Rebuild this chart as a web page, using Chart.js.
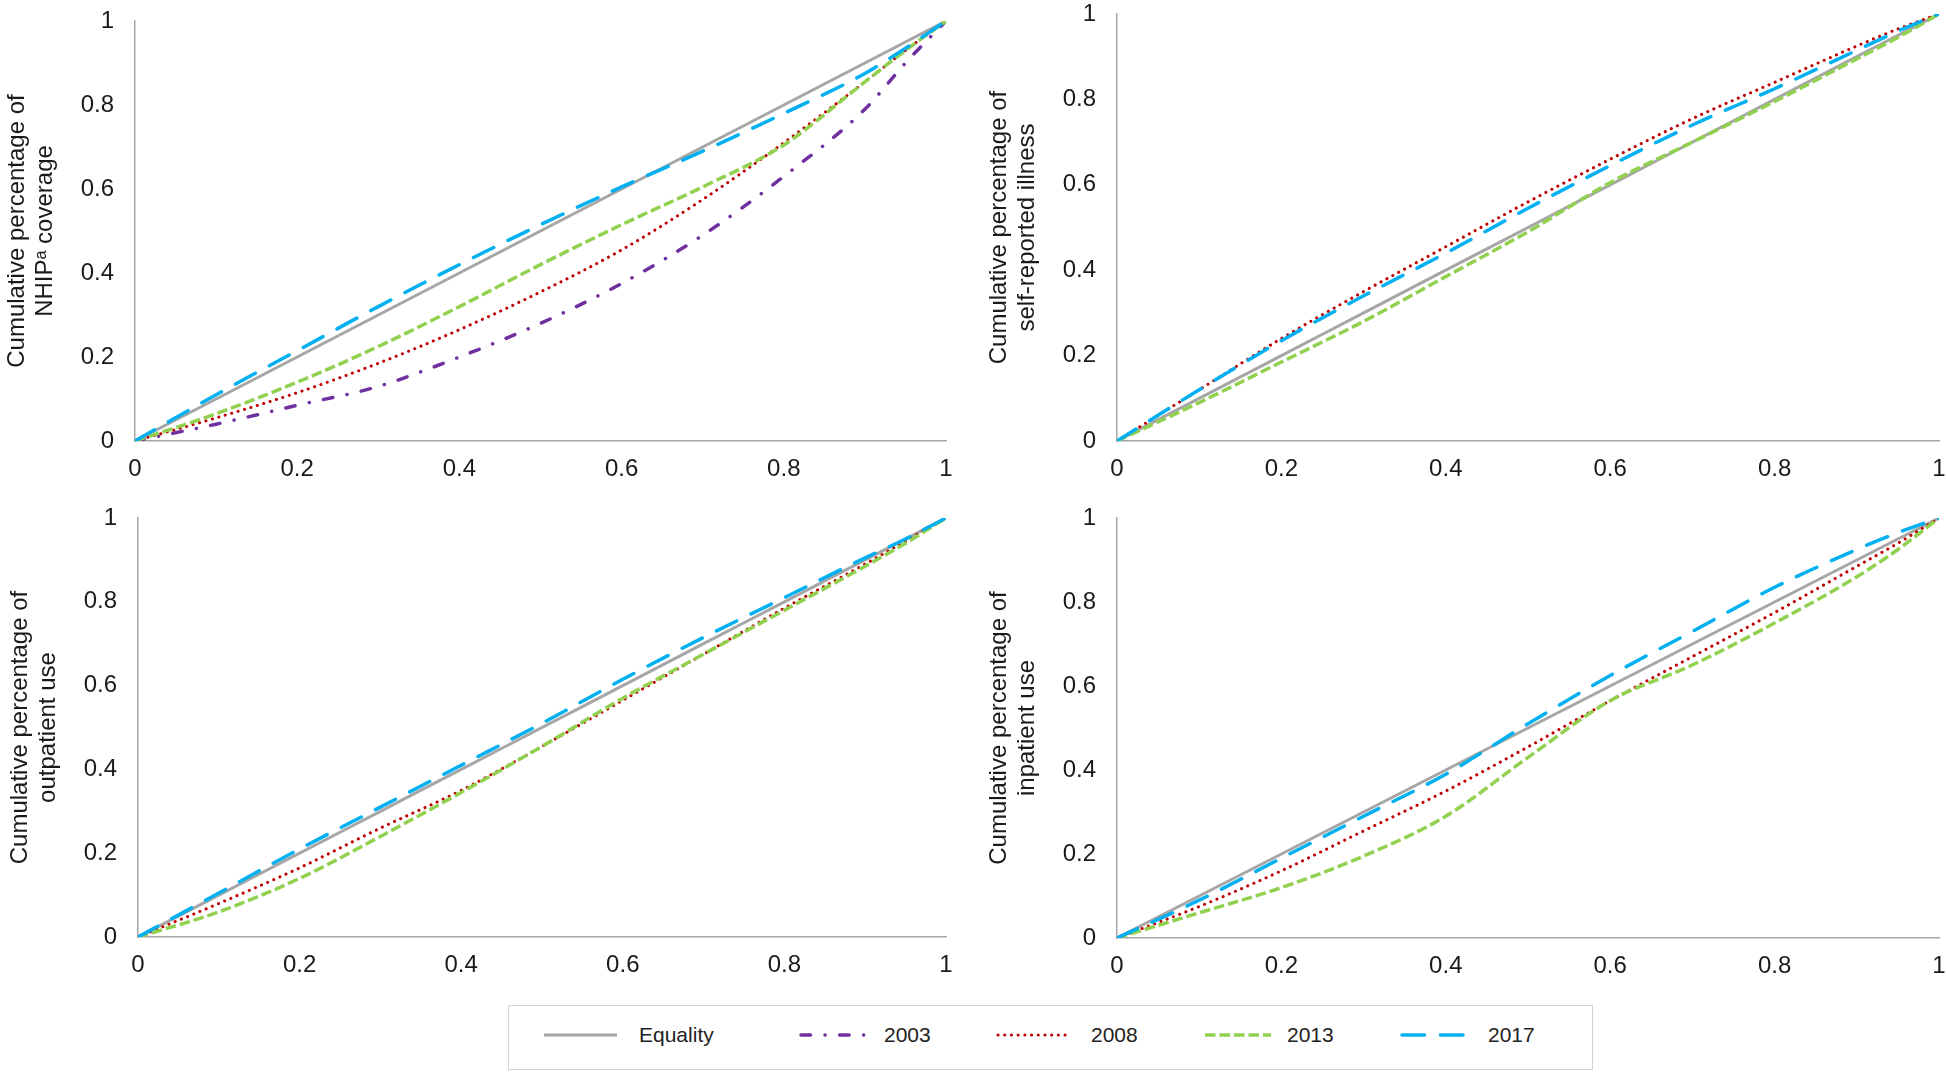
<!DOCTYPE html>
<html>
<head>
<meta charset="utf-8">
<script src="https://cdn.jsdelivr.net/npm/chart.js@4.4.1/dist/chart.umd.min.js"></script>
<style>
    html, body { margin: 0; padding: 0; background: #fff; }
    body { width: 1946px; height: 1075px; position: relative; overflow: hidden; font-family: "Liberation Sans", Arial, sans-serif; }
    .panel { position: absolute; }
    #legend { position: absolute; left: 508px; top: 1005px; width: 1083px; height: 63px; border: 1.5px solid #d4d4d4; }
    #legend .sample { position: absolute; top: 24px; }
    #legend .label { position: absolute; top: 17px; font-size: 21px; color: #222; line-height: 24px; }
</style>
</head>
<body>
<div class="panel" style="left:0px;top:0px;width:970px;height:500px"><canvas id="nhip"></canvas></div>
<div class="panel" style="left:982px;top:0px;width:964px;height:500px"><canvas id="illness"></canvas></div>
<div class="panel" style="left:3px;top:480px;width:967px;height:510px"><canvas id="outpatient"></canvas></div>
<div class="panel" style="left:982px;top:480px;width:964px;height:510px"><canvas id="inpatient"></canvas></div>
<div id="legend"></div>

<script>
    'use strict';

    // cumulative share of population (x of every curve)
    var lorenzX = [0, 0.1, 0.2, 0.3, 0.4, 0.5, 0.6, 0.7, 0.8, 0.9, 0.95, 1];
    var equality = [0, 0.1, 0.2, 0.3, 0.4, 0.5, 0.6, 0.7, 0.8, 0.9, 0.95, 1];

    // NHIP coverage
    var nhip2003 = [0, 0.04, 0.085, 0.13, 0.2, 0.28, 0.375, 0.49, 0.63, 0.79, 0.9, 1];
    var nhip2008 = [0, 0.055, 0.115, 0.185, 0.265, 0.355, 0.455, 0.575, 0.71, 0.855, 0.93, 1];
    var nhip2013 = [0, 0.065, 0.14, 0.225, 0.32, 0.42, 0.515, 0.605, 0.705, 0.855, 0.93, 1];
    var nhip2017 = [0, 0.11, 0.215, 0.32, 0.42, 0.515, 0.605, 0.69, 0.78, 0.875, 0.935, 1];

    // self-reported illness
    var illness2008 = [0, 0.12, 0.24, 0.35, 0.455, 0.56, 0.66, 0.755, 0.84, 0.925, 0.965, 1];
    var illness2013 = [0, 0.09, 0.185, 0.28, 0.385, 0.49, 0.605, 0.7, 0.795, 0.895, 0.945, 1];
    var illness2017 = [0, 0.12, 0.235, 0.34, 0.44, 0.545, 0.645, 0.74, 0.825, 0.915, 0.96, 1];

    // outpatient use
    var outpatient2008 = [0, 0.08, 0.165, 0.26, 0.35, 0.455, 0.565, 0.675, 0.785, 0.89, 0.945, 1];
    var outpatient2013 = [0, 0.06, 0.14, 0.24, 0.345, 0.455, 0.57, 0.675, 0.78, 0.885, 0.94, 1];
    var outpatient2017 = [0, 0.105, 0.21, 0.31, 0.41, 0.51, 0.615, 0.715, 0.81, 0.905, 0.95, 1];

    // inpatient use
    var inpatient2008 = [0, 0.075, 0.16, 0.255, 0.35, 0.455, 0.565, 0.67, 0.775, 0.885, 0.94, 1];
    var inpatient2013 = [0, 0.06, 0.12, 0.195, 0.29, 0.43, 0.565, 0.65, 0.75, 0.86, 0.925, 1];
    var inpatient2017 = [0, 0.09, 0.19, 0.29, 0.39, 0.51, 0.625, 0.73, 0.835, 0.925, 0.965, 1];

    var axisTicks = [0, 0.2, 0.4, 0.6, 0.8, 1];

    var seriesStyles = {
        'Equality': { color: '#a6a6a6', width: 3, dash: [], cap: 'butt', order: 5 },
        '2003': { color: '#7030a0', width: 3.5, dash: [9.5, 14.5, 0.1, 14.5], cap: 'round', order: 4 },
        '2008': { color: '#c00000', width: 3, dash: [0.1, 6.6], cap: 'round', order: 3 },
        '2013': { color: '#92d050', width: 3.5, dash: [10.5, 4], cap: 'butt', order: 2 },
        '2017': { color: '#00b0f0', width: 3.5, dash: [22.5, 16], cap: 'round', order: 1 }
    };

    var toPoints = values => values.map((v, i) => ({ x: lorenzX[i], y: v }));

    var makeDataset = (name, values) => {
        var s = seriesStyles[name];
        return {
            label: name,
            data: toPoints(values),
            borderColor: s.color,
            borderWidth: s.width,
            borderDash: s.dash,
            borderCapStyle: s.cap,
            order: s.order,
            pointRadius: 0,
            fill: false,
            cubicInterpolationMode: 'monotone'
        };
    };

    var axisColor = '#a6a6a6';
    var textColor = '#1a1a1a';
    var tickLabel = v => String(Math.round(v * 10) / 10);

    var makePanel = (id, title, series, pad) => {
        var datasets = [makeDataset('Equality', equality)];
        series.forEach(e => datasets.push(makeDataset(e[0], e[1])));
        return new Chart(document.getElementById(id), {
            type: 'line',
            data: { datasets: datasets },
            options: {
                responsive: true,
                maintainAspectRatio: false,
                animation: false,
                layout: { padding: pad },
                plugins: { legend: { display: false }, tooltip: { enabled: false } },
                scales: {
                    x: {
                        type: 'linear',
                        min: 0,
                        max: 1,
                        afterBuildTicks: scale => { scale.ticks = axisTicks.map(v => ({ value: v })); },
                        afterFit: scale => {
                            scale.height = 50;
                            scale.paddingLeft = 0;
                            scale.paddingRight = 0;
                        },
                        grid: { display: true, drawOnChartArea: false, drawTicks: false },
                        border: { display: true, color: axisColor, width: 1.5 },
                        ticks: { padding: 14, color: textColor, callback: tickLabel, font: { family: 'Liberation Sans', size: 24 } }
                    },
                    y: {
                        type: 'linear',
                        min: 0,
                        max: 1,
                        afterBuildTicks: scale => { scale.ticks = axisTicks.map(v => ({ value: v })); },
                        afterFit: scale => {
                            scale.width = 135;
                            scale.paddingTop = 0;
                            scale.paddingBottom = 0;
                        },
                        grid: { display: true, drawOnChartArea: false, drawTicks: false },
                        border: { display: true, color: axisColor, width: 1.5 },
                        ticks: { padding: 21, color: textColor, callback: tickLabel, font: { family: 'Liberation Sans', size: 24, lineHeight: 1 } },
                        title: {
                            display: true,
                            text: title,
                            color: textColor,
                            padding: { top: 3, bottom: 0 },
                            font: { family: 'Liberation Sans', size: 24, lineHeight: 28 / 24 }
                        }
                    }
                }
            }
        });
    };

    makePanel('nhip', ['Cumulative percentage of', 'NHIP\u1d43 coverage'],
        [['2003', nhip2003], ['2008', nhip2008], ['2013', nhip2013], ['2017', nhip2017]],
        { left: 0, top: 21, right: 24, bottom: 9 });

    makePanel('illness', ['Cumulative percentage of', 'self-reported illness'],
        [['2008', illness2008], ['2013', illness2013], ['2017', illness2017]],
        { left: 0, top: 14, right: 7, bottom: 9 });

    makePanel('outpatient', ['Cumulative percentage of', 'outpatient use'],
        [['2008', outpatient2008], ['2013', outpatient2013], ['2017', outpatient2017]],
        { left: 0, top: 38, right: 24, bottom: 3 });

    makePanel('inpatient', ['Cumulative percentage of', 'inpatient use'],
        [['2008', inpatient2008], ['2013', inpatient2013], ['2017', inpatient2017]],
        { left: 0, top: 38, right: 7, bottom: 2 });

    // shared legend under the four panels
    var legendNames = ['Equality', '2003', '2008', '2013', '2017'];
    var legendSlots = [[33, 77, 130], [290, 67, 375], [487, 77, 582], [694, 70, 778], [891, 74, 979]];
    var legend = document.getElementById('legend');
    legendNames.forEach((name, i) => {
        var s = seriesStyles[name];
        var slot = legendSlots[i];
        var svg = '<svg class="sample" style="left:' + slot[0] + 'px" width="' + slot[1] + '" height="10">' +
            '<line x1="2" y1="5" x2="' + (slot[1] - 2) + '" y2="5" stroke="' + s.color + '" stroke-width="' + s.width +
            '" stroke-linecap="' + s.cap + '" stroke-dasharray="' + (s.dash.length ? s.dash.join(' ') : 'none') + '"/></svg>';
        legend.insertAdjacentHTML('beforeend', svg);
        legend.insertAdjacentHTML('beforeend', '<span class="label" style="left:' + slot[2] + 'px">' + name + '</span>');
    });
</script>
</body>
</html>
